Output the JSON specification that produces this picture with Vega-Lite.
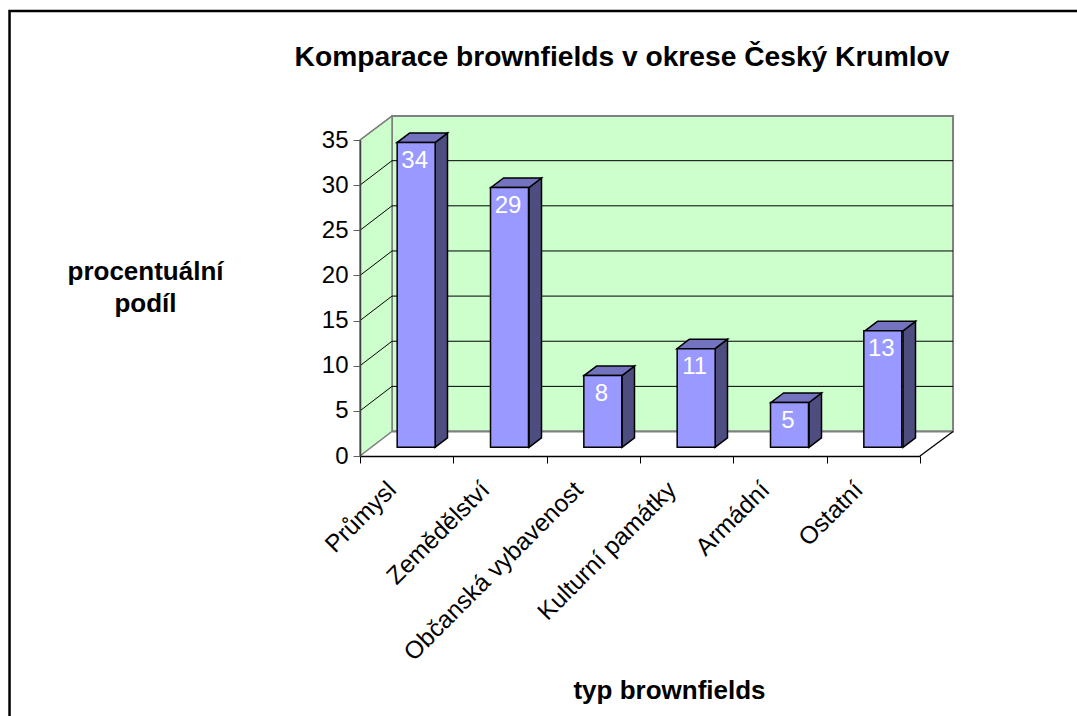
{"$schema":"https://vega.github.io/schema/vega-lite/v6.json","width":560,"height":316,"autosize":"none","padding":{"left":360,"top":140,"right":157,"bottom":260},"background":"white","view":{"stroke":null},
"title":{"text":"Komparace brownfields v okrese Český Krumlov","font":"Liberation Sans","fontSize":28.2,"fontWeight":"bold","color":"black","anchor":"middle","frame":"group","dx":-18,"offset":-62},
"config":{"view":{"stroke":null}},
"datasets":{
"bars":[{"typ":"Průmysl","podil":34},{"typ":"Zemědělství","podil":29},{"typ":"Občanská vybavenost","podil":8},{"typ":"Kulturní památky","podil":11},{"typ":"Armádní","podil":5},{"typ":"Ostatní","podil":13}],
"frame":[{"x":-3.755,"x2":9,"y":49.29,"y2":-40}],
"wall":[{"x":0.343,"x2":6.354,"y":2.71,"y2":37.66}],
"side":[{"d":0,"x":0,"y":0,"y2":35},{"d":0,"x":0.343,"y":2.71,"y2":37.66}],
"floor":[{"x":0,"x2":6,"y":0},{"x":0.343,"x2":6.354,"y":2.71}],
"edges":[{"x":0,"x2":0.343,"y":35,"y2":37.66,"k":"g"},{"x":0,"x2":0.343,"y":0,"y2":2.71,"k":"g"},{"x":6,"x2":6.354,"y":0,"y2":2.71,"k":"b"}],
"grid":[{"x":0,"x2":0.343,"y":5,"y2":7.71},{"x":0,"x2":0.343,"y":10,"y2":12.71},{"x":0,"x2":0.343,"y":15,"y2":17.71},{"x":0,"x2":0.343,"y":20,"y2":22.71},{"x":0,"x2":0.343,"y":25,"y2":27.71},{"x":0,"x2":0.343,"y":30,"y2":32.71},
{"x":0.343,"x2":6.354,"y":7.71,"y2":7.71},{"x":0.343,"x2":6.354,"y":12.71,"y2":12.71},{"x":0.343,"x2":6.354,"y":17.71,"y2":17.71},{"x":0.343,"x2":6.354,"y":22.71,"y2":22.71},{"x":0.343,"x2":6.354,"y":27.71,"y2":27.71},{"x":0.343,"x2":6.354,"y":32.71,"y2":32.71}],
"sides":[
{"b":"a","x":0.8036,"y":0.964,"y2":34.712},{"b":"a","x":0.9375,"y":2.016,"y2":35.764},
{"b":"b","x":1.8107,"y":0.964,"y2":29.739},{"b":"b","x":1.9446,"y":2.016,"y2":30.791},
{"b":"c","x":2.8071,"y":0.964,"y2":8.905},{"b":"c","x":2.941,"y":2.016,"y2":9.957},
{"b":"d","x":3.8036,"y":0.964,"y2":11.884},{"b":"d","x":3.9375,"y":2.016,"y2":12.936},
{"b":"e","x":4.8107,"y":0.964,"y2":5.926},{"b":"e","x":4.9446,"y":2.016,"y2":6.978},
{"b":"f","x":5.8179,"y":0.964,"y2":13.867},{"b":"f","x":5.9518,"y":2.016,"y2":14.919}],
"tops":[
{"b":"a","y":34.712,"x":0.3964,"x2":0.8036},{"b":"a","y":35.764,"x":0.5303,"x2":0.9375},
{"b":"b","y":29.739,"x":1.4036,"x2":1.8107},{"b":"b","y":30.791,"x":1.5375,"x2":1.9446},
{"b":"c","y":8.905,"x":2.4,"x2":2.8071},{"b":"c","y":9.957,"x":2.5339,"x2":2.941},
{"b":"d","y":11.884,"x":3.3964,"x2":3.8036},{"b":"d","y":12.936,"x":3.5303,"x2":3.9375},
{"b":"e","y":5.926,"x":4.4036,"x2":4.8107},{"b":"e","y":6.978,"x":4.5375,"x2":4.9446},
{"b":"f","y":13.867,"x":5.4107,"x2":5.8179},{"b":"f","y":14.919,"x":5.5446,"x2":5.9518}]
},
"resolve":{"scale":{"x":"independent","y":"independent"},"axis":{"x":"independent","y":"independent"}},
"layer":[
{"data":{"name":"frame"},"mark":{"type":"rect","fill":"white","stroke":"black","strokeWidth":2.5},"encoding":{"x":{"field":"x","type":"quantitative","scale":{"domain":[0,6],"nice":false,"zero":false},"axis":null},"x2":{"field":"x2"},"y":{"field":"y","type":"quantitative","scale":{"domain":[0,35],"nice":false,"zero":false},"axis":null},"y2":{"field":"y2"}}},
{"data":{"name":"wall"},"mark":{"type":"rect","fill":"#CCFFCC","stroke":"#808080","strokeWidth":2},"encoding":{"x":{"field":"x","type":"quantitative","scale":{"domain":[0,6],"nice":false,"zero":false},"axis":null},"x2":{"field":"x2"},"y":{"field":"y","type":"quantitative","scale":{"domain":[0,35],"nice":false,"zero":false},"axis":null},"y2":{"field":"y2"}}},
{"data":{"name":"side"},"mark":{"type":"area","fill":"#CCFFCC","fillOpacity":1,"stroke":"#808080","strokeWidth":1.5,"orient":"vertical"},"encoding":{"x":{"field":"x","type":"quantitative","scale":{"domain":[0,6],"nice":false,"zero":false},"axis":null},"y":{"field":"y","type":"quantitative","scale":{"domain":[0,35],"nice":false,"zero":false},"axis":null},"y2":{"field":"y2"}}},
{"data":{"name":"floor"},"mark":{"type":"area","fill":"white","fillOpacity":1,"orient":"horizontal"},"encoding":{"x":{"field":"x","type":"quantitative","scale":{"domain":[0,6],"nice":false,"zero":false},"axis":null},"x2":{"field":"x2"},"y":{"field":"y","type":"quantitative","scale":{"domain":[0,35],"nice":false,"zero":false},"axis":null}}},
{"data":{"name":"wall"},"mark":{"type":"rule","color":"#808080","strokeWidth":2},"encoding":{"x":{"field":"x","type":"quantitative","scale":{"domain":[0,6],"nice":false,"zero":false},"axis":null},"x2":{"field":"x2"},"y":{"field":"y","type":"quantitative","scale":{"domain":[0,35],"nice":false,"zero":false},"axis":null}}},
{"data":{"name":"edges"},"mark":{"type":"rule","strokeWidth":1.3},"encoding":{"x":{"field":"x","type":"quantitative","scale":{"domain":[0,6],"nice":false,"zero":false},"axis":null},"x2":{"field":"x2"},"y":{"field":"y","type":"quantitative","scale":{"domain":[0,35],"nice":false,"zero":false},"axis":null},"y2":{"field":"y2"},"color":{"field":"k","type":"nominal","scale":{"domain":["g","b"],"range":["#808080","#000000"]},"legend":null}}},
{"data":{"name":"grid"},"mark":{"type":"rule","color":"black","strokeWidth":1},"encoding":{"x":{"field":"x","type":"quantitative","scale":{"domain":[0,6],"nice":false,"zero":false},"axis":{"orient":"bottom","values":[0,1,2,3,4,5,6],"labels":false,"grid":false,"title":null,"domainColor":"black","domainWidth":1.3,"tickColor":"black","tickSize":7,"tickWidth":1,"zindex":1}},"x2":{"field":"x2"},"y":{"field":"y","type":"quantitative","scale":{"domain":[0,35],"nice":false,"zero":false},"axis":{"orient":"left","values":[0,5,10,15,20,25,30,35],"grid":false,"domainColor":"#404040","domainWidth":1.5,"tickColor":"#606060","tickSize":7,"tickWidth":1,"labelFont":"Liberation Sans","labelFontSize":24,"labelColor":"black","labelPadding":5,"title":["procentuální","podíl"],"titleFont":"Liberation Sans","titleFontSize":26,"titleFontWeight":"bold","titleColor":"black","titleAngle":0,"titleAlign":"center","titleBaseline":"middle","titleLineHeight":32,"titleX":-215,"titleY":131,"zindex":1}},"y2":{"field":"y2"}}},
{"data":{"name":"sides"},"mark":{"type":"area","fill":"#4D4D80","fillOpacity":1,"stroke":"black","strokeWidth":1.5,"orient":"vertical"},"encoding":{"detail":{"field":"b"},"x":{"field":"x","type":"quantitative","scale":{"domain":[0,6],"nice":false,"zero":false},"axis":null},"y":{"field":"y","type":"quantitative","scale":{"domain":[0,35],"nice":false,"zero":false},"axis":null},"y2":{"field":"y2"}}},
{"data":{"name":"tops"},"mark":{"type":"area","fill":"#7373BF","fillOpacity":1,"stroke":"black","strokeWidth":1.5,"orient":"horizontal"},"encoding":{"detail":{"field":"b"},"x":{"field":"x","type":"quantitative","scale":{"domain":[0,6],"nice":false,"zero":false},"axis":null},"x2":{"field":"x2"},"y":{"field":"y","type":"quantitative","scale":{"domain":[0,35],"nice":false,"zero":false},"axis":null}}},
{"data":{"name":"bars"},"mark":{"type":"bar","width":38,"fill":"#9999FF","stroke":"black","strokeWidth":1.5,"xOffset":9.5,"yOffset":-8.7,"y2Offset":-8.7},"encoding":{"x":{"field":"typ","type":"nominal","sort":null,"scale":{"type":"band","paddingInner":0,"paddingOuter":0},"axis":{"orient":"bottom","ticks":false,"domain":false,"grid":false,"labelAngle":-45,"labelAlign":"right","labelBaseline":"middle","labelFont":"Liberation Sans","labelFontSize":24.5,"labelColor":"black","labelPadding":30,"labelOffset":-14,"labelOverlap":false,"labelLimit":0,"title":"typ brownfields","titleFont":"Liberation Sans","titleFontSize":26,"titleFontWeight":"bold","titleColor":"black","titleX":309,"titleY":234,"titleAlign":"center","titleBaseline":"middle","zindex":1}},"y":{"field":"podil","type":"quantitative","scale":{"domain":[0,35.26],"nice":false,"zero":true},"axis":null}}},
{"data":{"name":"bars"},"mark":{"type":"text","color":"white","font":"Liberation Sans","fontSize":24,"baseline":"top","xOffset":8,"yOffset":-2},"encoding":{"x":{"field":"typ","type":"nominal","sort":null,"scale":{"type":"band","paddingInner":0,"paddingOuter":0},"axis":null},"y":{"field":"podil","type":"quantitative","scale":{"domain":[0,35.26],"nice":false,"zero":true},"axis":null},"text":{"field":"podil","type":"quantitative"}}}
]}
